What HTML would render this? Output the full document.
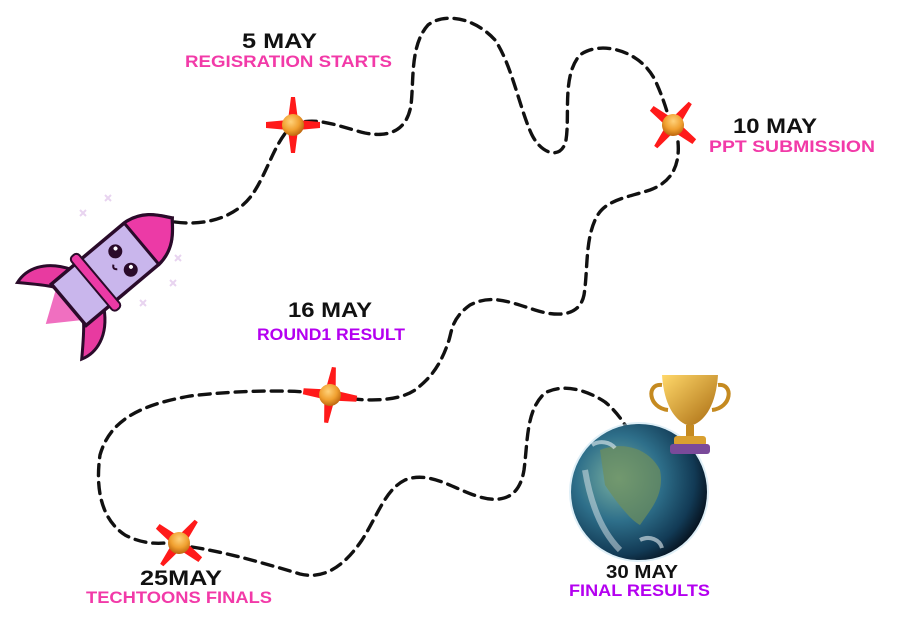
<!DOCTYPE html>
<html><head><meta charset="utf-8"><style>
html,body{margin:0;padding:0;background:#fff;width:901px;height:644px;overflow:hidden}
svg text{font-family:"Liberation Sans",sans-serif;font-weight:bold}
</style></head><body>
<svg width="901" height="644" viewBox="0 0 901 644" xmlns="http://www.w3.org/2000/svg">
<defs>
<radialGradient id="ball" cx="40%" cy="35%" r="65%"><stop offset="0" stop-color="#ffd27a"/><stop offset="0.6" stop-color="#f0a030"/><stop offset="1" stop-color="#c06a10"/></radialGradient>
<radialGradient id="globe" cx="35%" cy="40%" r="70%"><stop offset="0" stop-color="#7ab0a0"/><stop offset="0.45" stop-color="#2e6f8a"/><stop offset="0.8" stop-color="#123a55"/><stop offset="1" stop-color="#050d18"/></radialGradient>
<linearGradient id="gold" x1="0" y1="0" x2="1" y2="1"><stop offset="0" stop-color="#ffd86a"/><stop offset="1" stop-color="#a86a10"/></linearGradient>
<g id="mk">
<path d="M-2,-28 L2,-28 L5,-5 L27,-3 L27,3 L5,5 L2,28 L-2,28 L-5,5 L-27,3 L-27,-3 L-5,-5Z" fill="#ff1a1a"/>
<circle r="11" fill="url(#ball)"/>
</g>
</defs>
<g fill="none" stroke="#111" stroke-width="3.4" stroke-dasharray="11 7" stroke-linecap="round">
<path d="M175,222 C205,226 235,218 252,195 C268,172 275,140 293,125 C315,115 340,127 365,133 C390,138 407,130 411,105 C414,80 410,45 428,25 C445,12 475,18 495,40 C512,65 520,110 532,135 C542,155 562,160 566,140 C570,115 562,75 580,55 C600,40 640,50 655,80 C662,95 666,108 668,115 M678,142 C680,165 672,182 650,190 C625,198 605,200 596,218 C585,240 588,270 584,295 C580,315 560,318 535,310 C505,300 490,295 470,305 C452,318 452,330 449,340 C440,368 428,380 415,390 C400,400 375,402 345,398"/>
<path d="M318,393 C290,390 240,390 190,396 C140,405 110,420 100,455 C95,490 102,520 125,535 C140,543 155,544 165,543 M192,547 C230,553 270,565 300,574 C325,580 345,565 362,540 C378,515 385,490 405,480 C430,470 455,490 480,497 C505,504 520,495 524,470 C528,440 526,410 545,393 C565,382 590,392 605,402 C615,410 622,420 627,428"/>
</g>
<use href="#mk" transform="translate(293,125) rotate(0)"/>
<use href="#mk" transform="translate(673,125) rotate(38)"/>
<use href="#mk" transform="translate(330,395) rotate(8)"/>
<use href="#mk" transform="translate(179,543) rotate(38)"/>
<!-- globe -->
<circle cx="639" cy="492" r="70" fill="#bfe0f0" opacity="0.5"/>
<circle cx="639" cy="492" r="68" fill="url(#globe)"/>
<path d="M600,450 C625,440 650,450 660,470 C665,495 650,510 640,525 C630,520 615,500 605,485Z" fill="#6f8f5a" opacity="0.7"/>
<path d="M585,470 C590,500 600,530 620,550" stroke="#dfe8ec" stroke-width="6" fill="none" opacity="0.5"/>
<path d="M592,445 C600,440 610,442 615,448 M640,540 C650,535 660,540 662,548" stroke="#e8f0f4" stroke-width="4" fill="none" opacity="0.6"/>
<!-- trophy -->
<path d="M662,375 L718,375 C716,405 705,422 690,426 C675,422 664,405 662,375Z" fill="url(#gold)"/>
<path d="M662,385 C646,383 648,408 668,410 M718,385 C734,383 732,408 712,410" stroke="#c58a20" stroke-width="4" fill="none"/>
<rect x="686" y="425" width="8" height="12" fill="#c58a20"/>
<rect x="674" y="436" width="32" height="10" rx="3" fill="#d9a030"/>
<rect x="670" y="444" width="40" height="10" rx="3" fill="#7a4a9a"/>
<!-- rocket sparkles -->
<g fill="none" stroke="#e8d4f0" stroke-width="2">
<path d="M80,210 l6,6 m0,-6 l-6,6 M105,195 l6,6 m0,-6 l-6,6 M175,255 l6,6 m0,-6 l-6,6 M170,280 l6,6 m0,-6 l-6,6 M140,300 l6,6 m0,-6 l-6,6 M80,215 l0,0"/>
</g>
<!-- rocket -->
<g transform="translate(100,272) rotate(-40)">
<path d="M-20,-20 C-35,-45 -55,-50 -70,-45 C-60,-35 -50,-25 -45,-18Z M-20,30 C-35,55 -55,60 -70,55 C-60,45 -50,35 -45,28Z" fill="#e83aa0" stroke="#2a0b2a" stroke-width="3"/>
<path d="M-45,-15 L-75,5 L-45,25Z" fill="#f06fc0"/>
<path d="M-45,-22 L50,-22 C75,-20 85,0 90,5 C85,10 75,30 50,32 L-45,32 Z" fill="#c9b6ec" stroke="#2a0b2a" stroke-width="3.5"/>
<path d="M50,-22 C75,-20 85,0 90,5 C85,10 75,30 50,32Z" fill="#ec3aa6" stroke="#2a0b2a" stroke-width="3"/>
<rect x="-15" y="-30" width="10" height="70" rx="4" fill="#ec3aa6" stroke="#2a0b2a" stroke-width="2"/>
<circle cx="25" cy="-6" r="7" fill="#2a0b2a"/><circle cx="25" cy="18" r="7" fill="#2a0b2a"/>
<circle cx="27" cy="-8" r="2" fill="#fff"/><circle cx="27" cy="16" r="2" fill="#fff"/>
<path d="M15,3 q-4,3 0,6" stroke="#2a0b2a" stroke-width="2" fill="none"/>
</g>
<!-- labels -->
<text x="242" y="48" font-size="21" fill="#111" textLength="75" lengthAdjust="spacingAndGlyphs">5 MAY</text>
<text x="185" y="67" font-size="17" fill="#f23aa8" textLength="207" lengthAdjust="spacingAndGlyphs">REGISRATION STARTS</text>
<text x="733" y="133" font-size="21" fill="#111" textLength="84" lengthAdjust="spacingAndGlyphs">10 MAY</text>
<text x="709" y="152" font-size="17" fill="#f23aa8" textLength="166" lengthAdjust="spacingAndGlyphs">PPT SUBMISSION</text>
<text x="288" y="317" font-size="21" fill="#111" textLength="84" lengthAdjust="spacingAndGlyphs">16 MAY</text>
<text x="257" y="340" font-size="17" fill="#b400f0" textLength="148" lengthAdjust="spacingAndGlyphs">ROUND1 RESULT</text>
<text x="140" y="585" font-size="21" fill="#111" textLength="82" lengthAdjust="spacingAndGlyphs">25MAY</text>
<text x="86" y="603" font-size="17" fill="#f23aa8" textLength="186" lengthAdjust="spacingAndGlyphs">TECHTOONS FINALS</text>
<text x="606" y="578" font-size="18" fill="#111" textLength="72" lengthAdjust="spacingAndGlyphs">30 MAY</text>
<text x="569" y="596" font-size="17" fill="#b400f0" textLength="141" lengthAdjust="spacingAndGlyphs">FINAL RESULTS</text>
</svg>
</body></html>
